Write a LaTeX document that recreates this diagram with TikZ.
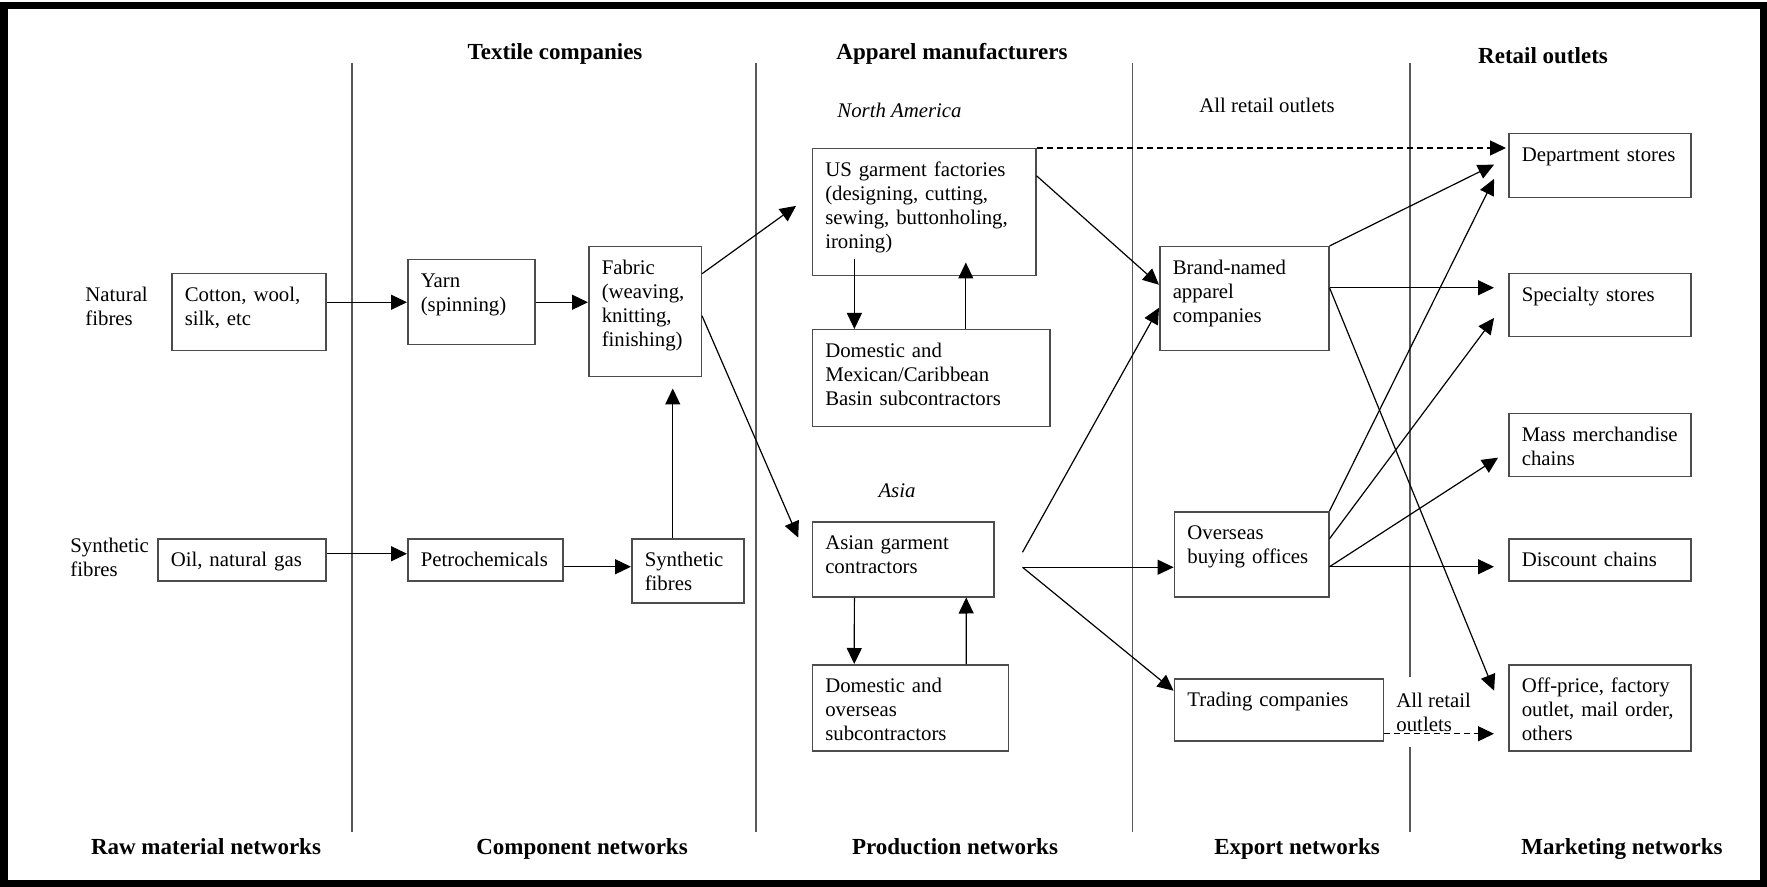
\documentclass[tikz,border=0pt]{standalone}
\usepackage{fontspec}
\setmainfont{Liberation Serif}
\usetikzlibrary{arrows.meta}
\hyphenpenalty=10000
\exhyphenpenalty=10000

\begin{document}
\begin{tikzpicture}[x=0.5pt, y=-0.5pt,
		font=\fontsize{10.4pt}{12pt}\selectfont,
		box/.style 2 args={draw=black!70, line width=0.75pt, anchor=north west, align=left,
			inner xsep=6.5pt, inner ysep=0pt, text width=#1, text height=13.75pt, text depth=#2},
		lbl/.style={inner sep=0pt, align=left},
		head/.style={inner sep=0pt, anchor=base, font=\fontsize{11.5pt}{13pt}\selectfont\bfseries},
		arr/.style={line width=0.6pt, -{Triangle[length=8pt,width=7.5pt]}},
		divider/.style={line width=0.65pt, black!65}]
		\useasboundingbox (0,0) rectangle (1767,887);
		\draw [line width=3.75pt] (4,5.5) rectangle (1763.5,884);

		% columns
		\foreach \x in {352,756,1132.5,1410}
			\draw [divider] (\x,63) -- (\x,832);
		\node [head] (htextile) at (555,60) {Textile companies};
		\node [head] (happarel) at (952,60) {Apparel manufacturers};
		\node [head] (hretail) at (1543,64) {Retail outlets};
		\node [head] (hraw) at (206,854) {Raw material networks};
		\node [head] (hcomp) at (582,854) {Component networks};
		\node [head] (hprod) at (955,854) {Production networks};
		\node [head] (hexport) at (1297,854) {Export networks};
		\node [head] (hmarket) at (1622,854) {Marketing networks};

		% raw materials and components
		\node [lbl, anchor=west] (natural) at (85,306) {Natural\\fibres};
		\node [lbl, anchor=west] (synthetic) at (70,557.5) {Synthetic\\fibres};
		\node [box={64pt}{24.75pt}] (cotton) at (171,273) {Cotton, wool,\\silk, etc};
		\node [box={71pt}{7.25pt}] (oil) at (157,538) {Oil, natural gas};
		\node [box={50.5pt}{28.75pt}] (yarn) at (407,259) {Yarn\\(spinning)};
		\node [box={64.5pt}{7.25pt}] (petro) at (407,538) {Petrochemicals};
		\node [box={43.25pt}{51.25pt}] (fabric) at (588,246) {Fabric\\(weaving,\\knitting,\\finishing)};
		\node [box={43pt}{18.25pt}] (synth) at (631,538) {Synthetic\\fibres};

		% production
		\node [lbl, anchor=base west] (namerica) at (837,118) {\itshape North America};
		\node [lbl, anchor=base] (asia) at (897,497) {\itshape Asia};
		\node [box={98.75pt}{49.75pt}] (us) at (811.5,148) {US garment factories\\(designing, cutting,\\sewing, buttonholing,\\ironing)};
		\node [box={105.75pt}{34.75pt}] (mex) at (811.5,329) {Domestic and\\Mexican/Caribbean\\Basin subcontractors};
		\node [box={77.75pt}{23.75pt}] (asian) at (811.5,521) {Asian garment\\contractors};
		\node [box={85pt}{29.25pt}] (dom) at (811.5,664) {Domestic and\\overseas\\subcontractors};

		% export
		\node [lbl, anchor=base] (allretail) at (1267,113) {All retail outlets};
		\node [box={71.5pt}{38.25pt}] (brand) at (1159,246) {Brand-named\\apparel\\companies};
		\node [box={64.2pt}{28.75pt}] (overseas) at (1173.6,511) {Overseas\\buying offices};
		\node [box={91.5pt}{17.25pt}] (trading) at (1173.6,678) {Trading companies};

		% retail
		\node [box={78pt}{18.25pt}] (dept) at (1508,133) {Department~stores};
		\node [box={78pt}{17.75pt}] (spec) at (1508,273) {Specialty stores};
		\node [box={78pt}{17.75pt}] (mass) at (1508,413) {Mass~merchandise\\chains};
		\node [box={78pt}{7.25pt}] (disc) at (1508,538) {Discount chains};
		\node [box={78pt}{29.25pt}] (off) at (1508,664) {Off-price,~factory\\outlet,~mail~order,\\others};
		\node [lbl, anchor=west, fill=white, inner xsep=1pt, minimum height=35pt] (allretailb) at (1394,712) {All retail\\outlets};

		% flows
		\draw [arr] (cotton.east |- yarn.west) -- (yarn.west);
		\draw [arr] (yarn.east) -- (yarn.east -| fabric.west);
		\draw [arr] ([yshift=3pt]oil.east) -- ([yshift=3pt]petro.west);
		\draw [arr] ([yshift=-3.5pt]petro.east) -- ([yshift=2pt]synth.west);
		\coordinate (sf) at ([xshift=-7.5pt]synth.north);
		\draw [arr, shorten >=5.5pt] (sf) -- (sf |- fabric.south);
		\draw [arr, shorten >=9.5pt] ([yshift=19pt]fabric.east) -- ([yshift=8.75pt]us.west);
		\draw [arr, shorten >=16.7pt] ([yshift=-2pt]fabric.east) -- ([yshift=-4.5pt]asian.west);

		\draw [arr] ([xshift=-34.8pt,yshift=8.5pt]us.south) -- ([xshift=-38.3pt]mex.north);
		\draw [arr] ([xshift=17.4pt]mex.north) -- ([xshift=20.9pt,yshift=7pt]us.south);
		\draw [arr] ([xshift=-24.3pt]asian.south) -- ([xshift=-28pt]dom.north);
		\draw [arr] ([xshift=28pt]dom.north) -- ([xshift=31.6pt]asian.south);

		\draw [arr] ([yshift=18.25pt]us.east) -- ([yshift=7pt]brand.west);
		\coordinate (af) at ([xshift=14pt,yshift=-4pt]asian.east);
		\draw [arr] ([xshift=14pt,yshift=3.5pt]asian.east) -- ([yshift=-4.5pt]brand.west);
		\draw [arr] (af) -- (af -| overseas.west);
		\draw [arr] (af) -- ([yshift=9.5pt]trading.west);

		\draw [arr, dash pattern=on 3pt off 2pt, shorten >=1pt] (us.north east) -- (us.north east -| dept.west);
		\draw [arr, shorten >=7.8pt] (brand.north east) -- ([yshift=4pt]dept.west);
		\draw [arr, shorten >=7pt] ([yshift=5.5pt]brand.east) -- ([yshift=8.75pt]spec.west);
		\draw [arr, shorten >=18.4pt] ([yshift=5.5pt]brand.east) -- ([yshift=-8.5pt]off.west);
		\draw [arr, shorten >=15.7pt] (overseas.north east) -- ([yshift=7.5pt]dept.west);
		\draw [arr, shorten >=11.65pt] ([yshift=7.75pt]overseas.east) -- ([yshift=3pt]spec.west);
		\draw [arr, shorten >=5.9pt] ([yshift=-6.25pt]overseas.east) -- ([yshift=-3pt]mass.west);
		\draw [arr, shorten >=7pt] ([yshift=-6.25pt]overseas.east) -- ([yshift=-3.5pt]disc.west);
		\draw [arr, dash pattern=on 3pt off 2pt, shorten >=7pt] ([yshift=-12pt]trading.east) -- ([yshift=-13pt]off.west);
		\end{tikzpicture}
\end{document}
